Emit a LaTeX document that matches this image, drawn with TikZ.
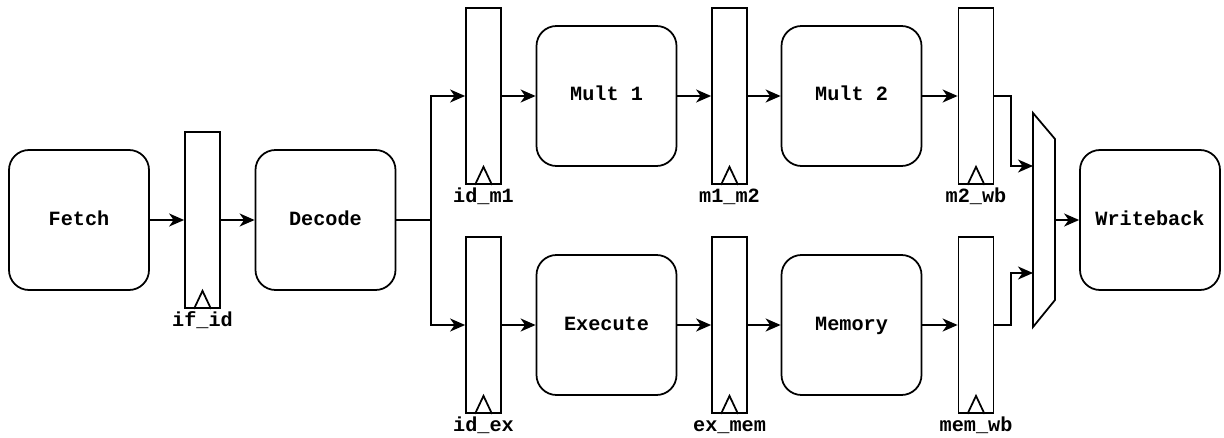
\documentclass[tikz,border=0pt]{standalone}
\usepackage{fontspec}
\setmonofont{Liberation Mono}
\usetikzlibrary{calc, arrows.meta, positioning}

\begin{document}
\begin{tikzpicture}[-, line width=1pt, >={Stealth[length=3mm, width=2.6mm, inset=0.9mm]},
        stage/.style={draw, rounded corners=0.4cm, minimum width=2.8cm, minimum height=2.8cm, text height=0.26cm, text depth=0.06cm, font=\fontsize{11.5}{13}\selectfont\ttfamily\bfseries},
        pipereg/.style={draw, minimum width=0.7cm, minimum height=3.52cm, inner sep=0pt},
        reglabel/.style={font=\fontsize{11.5}{13}\selectfont\ttfamily\bfseries, inner sep=1pt, text height=0.3cm, text depth=0.1cm}]
        \useasboundingbox (0,0) rectangle (24.48,8.74);

        \node[stage](fetch) at (1.58, 4.34){Fetch};
        \node[pipereg, label={[reglabel]below:if\_id}](if_id) at (4.05, 4.34){};
        \node[stage](decode) at (6.51, 4.34){Decode};

        \node[pipereg, label={[reglabel]below:id\_m1}](id_m1) at (9.67, 6.82){};
        \node[stage](mult1) at (12.13, 6.82){Mult 1};
        \node[pipereg, label={[reglabel]below:m1\_m2}](m1_m2) at (14.59, 6.82){};
        \node[stage](mult2) at (17.03, 6.82){Mult 2};
        \node[pipereg, label={[reglabel]below:m2\_wb}](m2_wb) at (19.52, 6.82){};

        \node[pipereg, label={[reglabel]below:id\_ex}](id_ex) at (9.67, 2.24){};
        \node[stage](execute) at (12.13, 2.24){Execute};
        \node[pipereg, label={[reglabel]below:ex\_mem}](ex_mem) at (14.59, 2.24){};
        \node[stage](memory) at (17.03, 2.24){Memory};
        \node[pipereg, label={[reglabel]below:mem\_wb}](mem_wb) at (19.52, 2.24){};

        \node[stage](writeback) at (23.0, 4.34){Writeback};

        \foreach \r in {if_id, id_m1, m1_m2, m2_wb, id_ex, ex_mem, mem_wb}
            \draw ($(\r.south)+(-0.17,0)$) -- ++(0.17,0.36) -- ++(0.17,-0.36);

        \coordinate (mux_tl) at (20.66, 6.48);
        \coordinate (mux_tr) at (21.1, 5.96);
        \coordinate (mux_br) at (21.1, 2.74);
        \coordinate (mux_bl) at (20.66, 2.2);
        \draw (mux_tl) -- (mux_tr) -- (mux_br) -- (mux_bl) -- cycle;
        \coordinate (mux_a) at (20.66, 5.42);
        \coordinate (mux_b) at (20.66, 3.28);
        \coordinate (mux_out) at (21.1, 4.34);
        \coordinate (split) at (8.62, 4.34);

        \path[->] (fetch) edge (if_id);
        \path[->] (if_id) edge (decode);
        \draw (decode) -- (split);
        \draw[->] (split) |- (id_m1);
        \draw[->] (split) |- (id_ex);

        \path[->] (id_m1) edge (mult1);
        \path[->] (mult1) edge (m1_m2);
        \path[->] (m1_m2) edge (mult2);
        \path[->] (mult2) edge (m2_wb);

        \path[->] (id_ex) edge (execute);
        \path[->] (execute) edge (ex_mem);
        \path[->] (ex_mem) edge (memory);
        \path[->] (memory) edge (mem_wb);

        \draw[->] (m2_wb.east) -- ++(0.33,0) |- (mux_a);
        \draw[->] (mem_wb.east) -- ++(0.33,0) |- (mux_b);
        \draw[->] (mux_out) -- (writeback);
    \end{tikzpicture}
\end{document}
